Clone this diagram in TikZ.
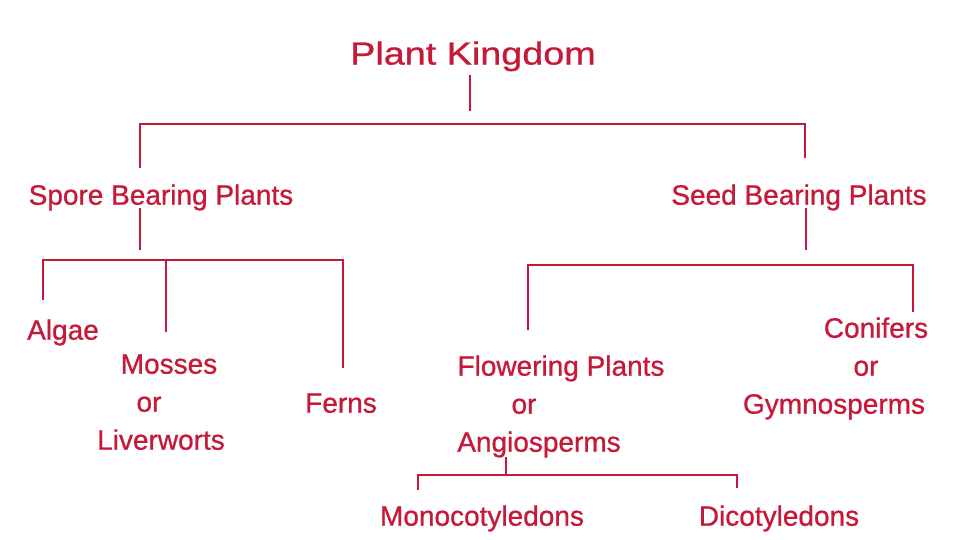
\documentclass[tikz,border=0pt]{standalone}
\usepackage{fontspec}
\setmainfont{Liberation Sans}[BoldFont=Liberation Sans, BoldFeatures={FakeBold=0.8}]
\definecolor{plantred}{RGB}{198,24,56}
\begin{document}
\begin{tikzpicture}[x=1pt, y=-1pt, line width=2.8pt, line join=miter, draw=plantred]
	\tikzset{taxon/.style={text=plantred, anchor=north, inner sep=0pt, align=center, font=\fontsize{28}{38}\selectfont\bfseries}}
	\useasboundingbox (0,0) rectangle (960,540);
	% First layer
	\node [taxon, font=\fontsize{32}{38}\selectfont\bfseries] (kingdom) at (473,40) {\scalebox{1.18}[1]{Plant Kingdom}};
	% Second layer
	\node [taxon] (spore) at (161,183) {Spore Bearing Plants};
	\node [taxon] (seed) at (799,183) {Seed Bearing Plants};
	% Third layer
	\node [taxon] (algae) at (63,318) {Algae};
	\node [taxon] (mosses) at (161,353) {\hspace*{16pt}Mosses\\or\hspace*{24pt}\mbox{}\\Liverworts};
	\node [taxon] (ferns) at (341,392) {Ferns};
	\node [taxon] (flowering) at (561,354) {Flowering Plants\\or\hspace*{74pt}\mbox{}\\Angiosperms\hspace*{44pt}\mbox{}};
	\node [taxon] (conifers) at (834,316) {\hspace*{84pt}Conifers\\\hspace*{64pt}or\\Gymnosperms};
	% Fourth layer
	\node [taxon] (mono) at (482,504) {Monocotyledons};
	\node [taxon] (dico) at (779,504) {Dicotyledons};
	% First layer lines
	\coordinate (kingdom-1) at (470,75);
	\coordinate (kingdom-2) at (470,111);
	\coordinate (bar-1-l) at (140,124);
	\coordinate (bar-1-r) at (805,124);
	\coordinate (spore-up) at (140,168);
	\coordinate (seed-up) at (805,158);
	\draw (kingdom-1) -- (kingdom-2);
	\draw (spore-up) -- (bar-1-l) -- (bar-1-r) -- (seed-up);
	% Second layer lines
	\coordinate (spore-1) at (140,208);
	\coordinate (spore-2) at (140,250);
	\coordinate (seed-1) at (806,208);
	\coordinate (seed-2) at (806,250);
	\foreach \a in {spore, seed}
	  \draw (\a-1) -- (\a-2);
	% Third layer lines
	\coordinate (bar-2-l) at (43,260);
	\coordinate (bar-2-m) at (166,260);
	\coordinate (bar-2-r) at (343,260);
	\coordinate (algae-up) at (43,300);
	\coordinate (mosses-up) at (166,332);
	\coordinate (ferns-up) at (343,368);
	\draw (algae-up) -- (bar-2-l) -- (bar-2-r) -- (ferns-up);
	\draw (bar-2-m) -- (mosses-up);
	\coordinate (bar-3-l) at (528,265);
	\coordinate (bar-3-r) at (913,265);
	\coordinate (flowering-up) at (528,330);
	\coordinate (conifers-up) at (913,312);
	\draw (flowering-up) -- (bar-3-l) -- (bar-3-r) -- (conifers-up);
	% Fourth layer lines
	\coordinate (flowering-1) at (506,457);
	\coordinate (bar-4-m) at (506,475);
	\coordinate (bar-4-l) at (418,475);
	\coordinate (bar-4-r) at (737,475);
	\coordinate (mono-up) at (418,490);
	\coordinate (dico-up) at (737,488);
	\draw (flowering-1) -- (bar-4-m);
	\draw (mono-up) -- (bar-4-l) -- (bar-4-r) -- (dico-up);
\end{tikzpicture}
\end{document}
